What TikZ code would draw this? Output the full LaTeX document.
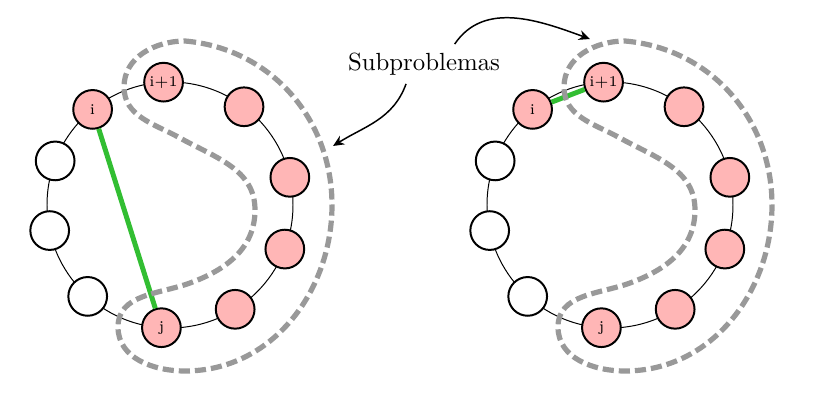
\documentclass[tikz,border=0pt]{standalone}
\usepackage{xcolor}
\usetikzlibrary{arrows.meta,calc}
\definecolor{nodepink}{RGB}{255,182,182}
\definecolor{chordgreen}{RGB}{50,190,50}

\begin{document}
\begin{tikzpicture}[
    x=0.403pt,
    y=0.403pt,
    vert/.style={
        circle,
        draw,
        thick,
        minimum size=15.6pt,
        inner sep=0pt,
        font=\fontsize{6}{7}\selectfont
      },
    sel/.style={vert,fill=nodepink},
    free/.style={vert,fill=white},
    chord/.style={draw=chordgreen,line width=2pt},
    region/.style={draw=gray!80,line width=2.1pt,dash pattern=on 4.5pt off 2pt},
    arrow/.style={-{Stealth[length=4.5pt,width=4pt]},semithick}
    ]
    \useasboundingbox (0,0) rectangle (827,402);

    \foreach \side/\cx/\from/\to in {L/170/i/j,R/610/i/i1} {
      \begin{scope}[shift={(\cx,197)}]
        \draw (0,0) circle (123);
        \foreach \ang/\nm/\st/\lab in {93/i1/sel/i+1,129/i/sel/i,159/w1/free/{},192/w2/free/{},
            228/w3/free/{},266/j/sel/j,302/p1/sel/{},339/p2/sel/{},13/p3/sel/{},53/p4/sel/{}}
          \node[\st] (\side\nm) at (\ang:123) {\lab};
        \draw[chord] (\side\from) -- (\side\to);
        % subproblem region
        \draw[region] (15,164) to[out=-5,in=90] (162,0) to[out=-90,in=0] (15,-166)
          to[out=180,in=-90] (-52,-122) to[out=90,in=200] (20,-78)
          to[out=20,in=-90] (85,-5) to[out=90,in=-29] (10,67)
          to[out=151,in=-90] (-46,118) to[out=90,in=180] cycle;
      \end{scope}
    }

    \node (sub) at (424,338) {Subproblemas};
    \coordinate (tipL) at (333,256);
    \coordinate (tipR) at (590,363);

    \draw[arrow] (sub.-132) to[out=-110,in=32] (tipL);
    \draw[arrow] (sub.33) to[out=56,in=160] (tipR);

  \end{tikzpicture}
\end{document}
